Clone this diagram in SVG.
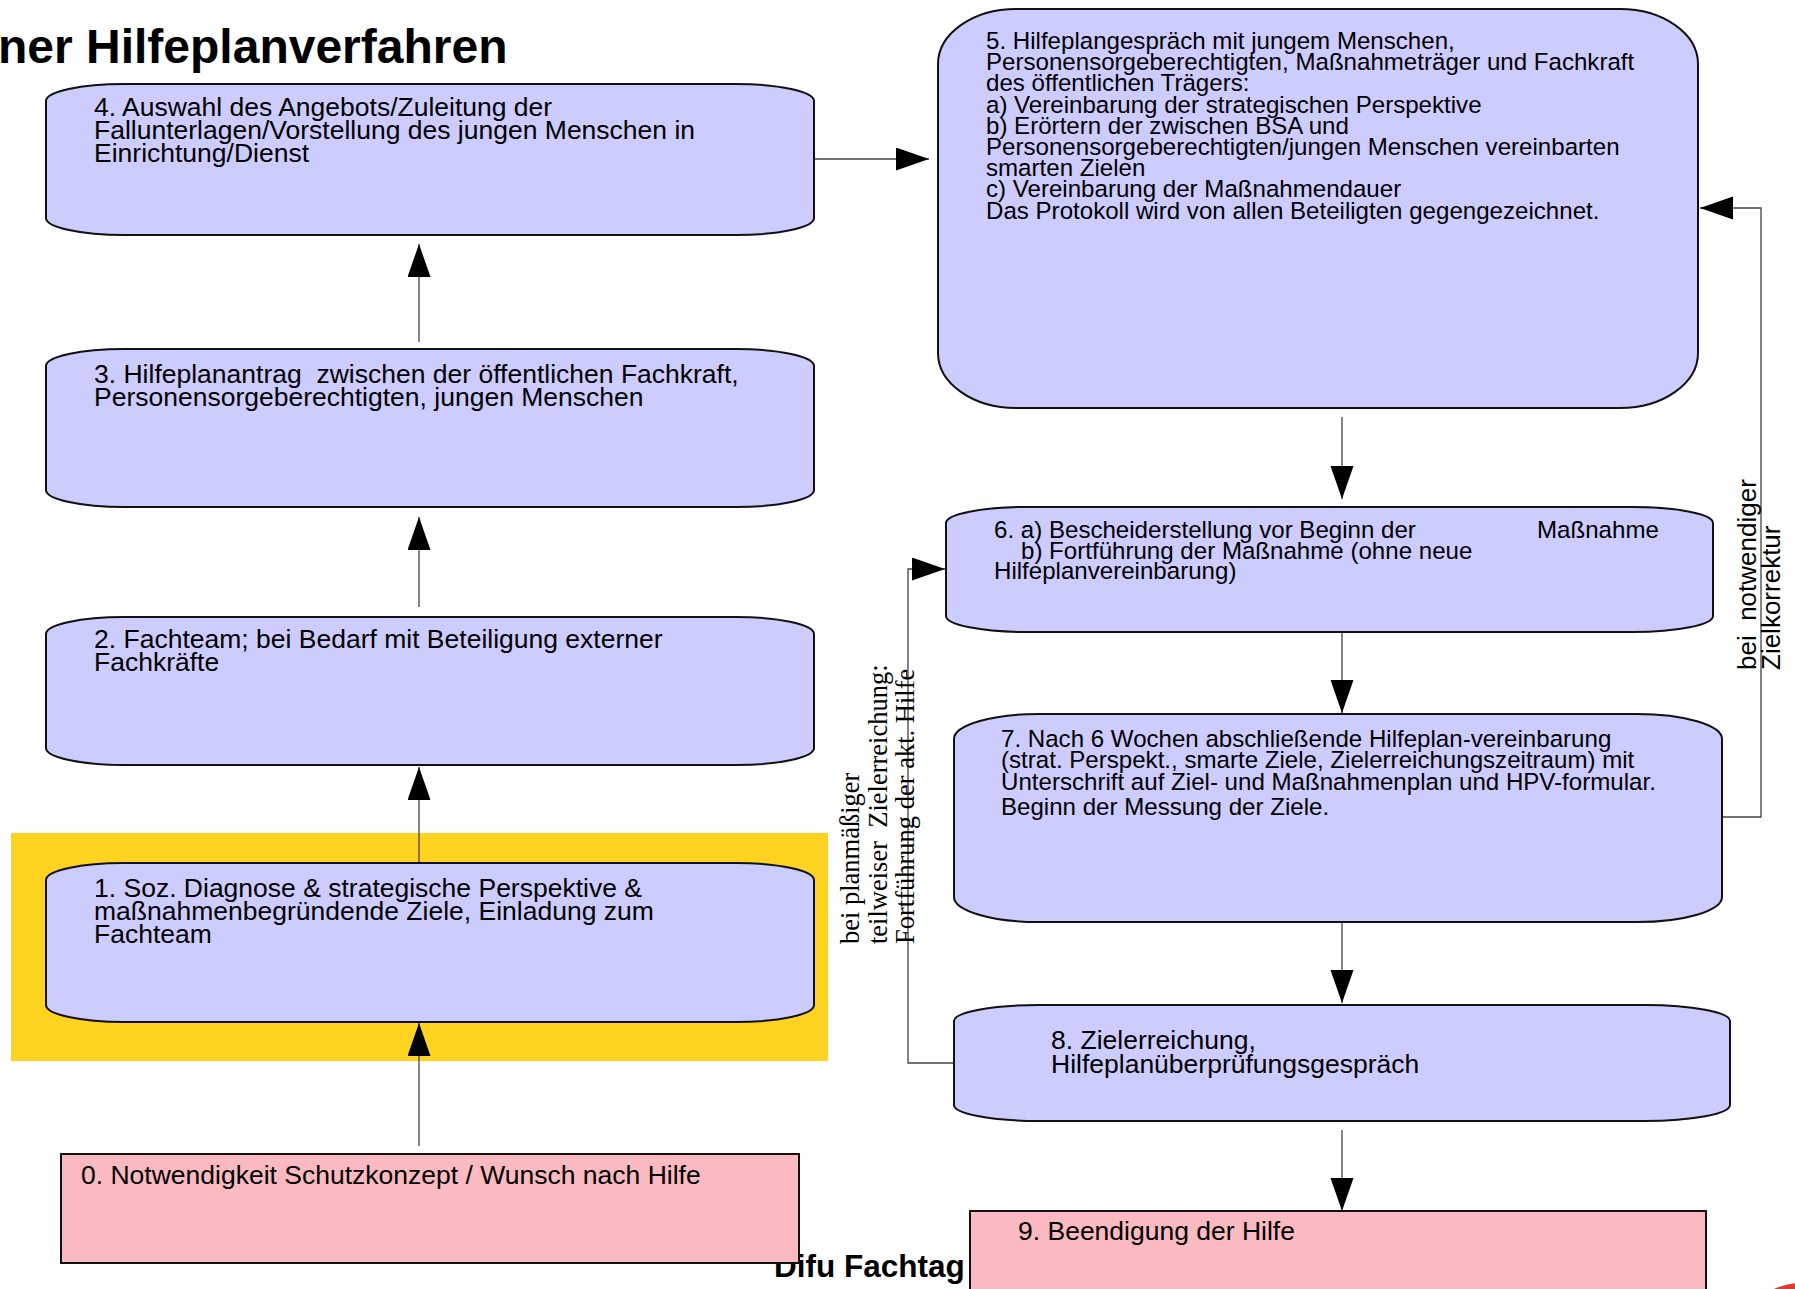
<svg xmlns="http://www.w3.org/2000/svg" width="1795" height="1289" viewBox="0 0 1795 1289">
<defs>
<style>
.box{fill:#ccccff;stroke:#111;stroke-width:2}
.pink{fill:#fbb9c1;stroke:#111;stroke-width:2}
.t{font-family:"Liberation Sans",Arial,sans-serif;font-size:26.5px;fill:#000;white-space:pre}
.s{font-family:"Liberation Sans",Arial,sans-serif;font-size:24.1px;fill:#000;white-space:pre}
.serif{font-family:"Liberation Serif","Times New Roman",serif;font-size:26.5px;fill:#000;white-space:pre}
.lbl{font-family:"Liberation Sans",Arial,sans-serif;font-size:26px;fill:#000;white-space:pre}
.b{font-family:"Liberation Sans",Arial,sans-serif;font-weight:bold;fill:#000}
.c{fill:none;stroke:#444;stroke-width:1.3}
</style>
<marker id="arr" markerUnits="userSpaceOnUse" markerWidth="34" markerHeight="24" refX="33" refY="11.5" orient="auto">
<path d="M0,0 L33,11.5 L0,23 z" fill="#000"/>
</marker>
</defs>
<rect width="1795" height="1289" fill="#fff"/>
<text class="b" x="-2" y="63" font-size="48">ner Hilfeplanverfahren</text>
<rect x="11" y="833" width="817" height="228" fill="#ffd320"/>
<text class="b" x="774" y="1277" font-size="31.5">Difu Fachtag</text>
<circle cx="1801" cy="1346" r="63" fill="#e8382c"/>

<g id="connectors">
<path class="c" d="M419,1146 V1023" marker-end="url(#arr)"/>
<path class="c" d="M419,863 V767" marker-end="url(#arr)"/>
<path class="c" d="M419,607 V517" marker-end="url(#arr)"/>
<path class="c" d="M419,342 V244" marker-end="url(#arr)"/>
<path class="c" d="M814,159 H929" marker-end="url(#arr)"/>
<path class="c" d="M1342,417 V499" marker-end="url(#arr)"/>
<path class="c" d="M1342,632 V713" marker-end="url(#arr)"/>
<path class="c" d="M1342,922 V1003" marker-end="url(#arr)"/>
<path class="c" d="M1342,1130 V1211" marker-end="url(#arr)"/>
<path class="c" d="M1722,817 H1761 V208 H1700" marker-end="url(#arr)"/>
<path class="c" d="M954,1063 H908 V569 H945" marker-end="url(#arr)"/>
</g>

<g id="label-left">
<text class="serif" transform="translate(859,944) rotate(-90)">bei planmäßiger</text>
<text class="serif" transform="translate(887,944) rotate(-90)">teilweiser  Zielerreichung:</text>
<text class="serif" transform="translate(914,944) rotate(-90)">Fortführung der akt. Hilfe</text>
</g>
<g id="label-right">
<text class="lbl" transform="translate(1756,670) rotate(-90)">bei  notwendiger</text>
<text class="lbl" transform="translate(1780,670) rotate(-90)">Zielkorrektur</text>
</g>

<g id="node0">
<rect class="pink" x="61" y="1154" width="738" height="109"/>
<text class="t" x="81" y="1184">0. Notwendigkeit Schutzkonzept / Wunsch nach Hilfe</text>
</g>
<g id="node1">
<rect class="box" x="46" y="863" width="768" height="159" rx="78" ry="17"/>
<text class="t" x="94" y="896.5">1. Soz. Diagnose &amp; strategische Perspektive &amp;</text>
<text class="t" x="94" y="919.5">maßnahmenbegründende Ziele, Einladung zum</text>
<text class="t" x="94" y="942.5">Fachteam</text>
</g>
<g id="node2">
<rect class="box" x="46" y="617" width="768" height="148" rx="78" ry="17"/>
<text class="t" x="94" y="648">2. Fachteam; bei Bedarf mit Beteiligung externer</text>
<text class="t" x="94" y="671">Fachkräfte</text>
</g>
<g id="node3">
<rect class="box" x="46" y="349" width="768" height="158" rx="78" ry="17"/>
<text class="t" x="94" y="383">3. Hilfeplanantrag  zwischen der öffentlichen Fachkraft,</text>
<text class="t" x="94" y="406">Personensorgeberechtigten, jungen Menschen</text>
</g>
<g id="node4">
<rect class="box" x="46" y="84" width="768" height="151" rx="78" ry="17"/>
<text class="t" x="94" y="116">4. Auswahl des Angebots/Zuleitung der</text>
<text class="t" x="94" y="139">Fallunterlagen/Vorstellung des jungen Menschen in</text>
<text class="t" x="94" y="162">Einrichtung/Dienst</text>
</g>
<g id="node5">
<rect class="box" x="938" y="9" width="760" height="399" rx="78" ry="55"/>
<text class="s" x="986" y="49">5. Hilfeplangespräch mit jungem Menschen,</text>
<text class="s" x="986" y="70.2">Personensorgeberechtigten, Maßnahmeträger und Fachkraft</text>
<text class="s" x="986" y="91.4">des öffentlichen Trägers:</text>
<text class="s" x="986" y="112.6">a) Vereinbarung der strategischen Perspektive</text>
<text class="s" x="986" y="133.8">b) Erörtern der zwischen BSA und</text>
<text class="s" x="986" y="155">Personensorgeberechtigten/jungen Menschen vereinbarten</text>
<text class="s" x="986" y="176.2">smarten Zielen</text>
<text class="s" x="986" y="197.4">c) Vereinbarung der Maßnahmendauer</text>
<text class="s" x="986" y="218.6">Das Protokoll wird von allen Beteiligten gegengezeichnet.</text>
</g>
<g id="node6">
<rect class="box" x="946" y="507" width="767" height="125" rx="80" ry="16"/>
<text class="s" x="994" y="538">6. a) Bescheiderstellung vor Beginn der</text>
<text class="s" x="1537" y="538">Maßnahme</text>
<text class="s" x="1021" y="559">b) Fortführung der Maßnahme (ohne neue</text>
<text class="s" x="994" y="579">Hilfeplanvereinbarung)</text>
</g>
<g id="node7">
<rect class="box" x="954" y="714" width="768" height="208" rx="85" ry="25"/>
<text class="s" x="1001" y="747">7. Nach 6 Wochen abschließende Hilfeplan-vereinbarung</text>
<text class="s" x="1001" y="768">(strat. Perspekt., smarte Ziele, Zielerreichungszeitraum) mit</text>
<text class="s" x="1001" y="790">Unterschrift auf Ziel- und Maßnahmenplan und HPV-formular.</text>
<text class="s" x="1001" y="815">Beginn der Messung der Ziele.</text>
</g>
<g id="node8">
<rect class="box" x="954" y="1005" width="776" height="116" rx="85" ry="16"/>
<text class="t" x="1051" y="1049">8. Zielerreichung,</text>
<text class="t" x="1051" y="1073">Hilfeplanüberprüfungsgespräch</text>
</g>
<g id="node9">
<rect class="pink" x="970" y="1211" width="736" height="90"/>
<text class="t" x="1018" y="1240">9. Beendigung der Hilfe</text>
</g>
</svg>
